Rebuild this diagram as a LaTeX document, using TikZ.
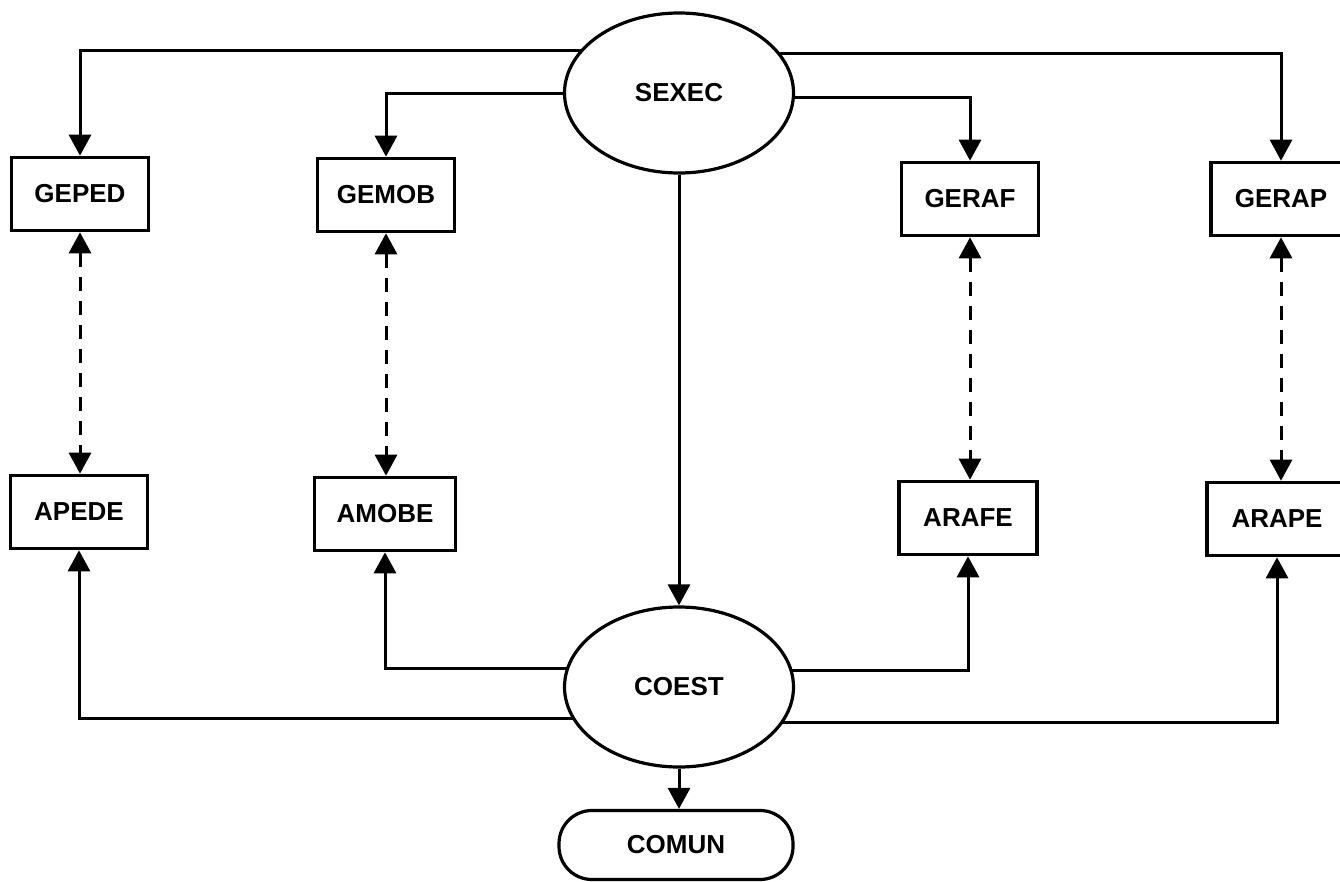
\documentclass[tikz,border=0pt]{standalone}
\usepackage{fontspec}
\setmainfont{Liberation Sans}
\usetikzlibrary{arrows.meta,calc,shapes.geometric,backgrounds}

\begin{document}
\begin{tikzpicture}[x=1pt,y=-1pt,
  every node/.style={font=\bfseries\fontsize{26}{30}\selectfont, inner sep=0pt},
  unit/.style={draw, line width=3.6pt, fill=white, minimum width=137pt, minimum height=73pt},
  hub/.style={draw, ellipse, line width=3.2pt, fill=white, minimum width=229pt, minimum height=160pt},
  terminal/.style={draw, line width=3.2pt, fill=white, rounded corners=33pt, minimum width=234pt, minimum height=69pt},
  link/.style={line width=3pt, -{Triangle[width=22pt,length=21pt]}},
  pair/.style={line width=3pt, dash pattern=on 14pt off 10pt,
    {Triangle[width=22pt,length=21pt]}-{Triangle[width=22pt,length=21pt]}}
]
\useasboundingbox (0,0) rectangle (1340,882);

% central units
\node[hub] (sexec) at (679,93) {SEXEC};
\node[hub] (coest) at (679,687) {COEST};
\node[terminal] (comun) at (676,845) {COMUN};

% managers (top row)
\node[unit] (geped) at (80,194)   {GEPED};
\node[unit] (gemob) at (386,195)  {GEMOB};
\node[unit] (geraf) at (970,199)  {GERAF};
\node[unit, minimum width=140pt] (gerap) at (1281,199) {GERAP};

% agencies (bottom row)
\node[unit] (apede) at (79,512)   {APEDE};
\node[unit, minimum width=141pt] (amobe) at (385,514) {AMOBE};
\node[unit, minimum width=138pt] (arafe) at (968,518) {ARAFE};
\node[unit, minimum width=140pt] (arape) at (1277,519) {ARAPE};

\begin{pgfonlayer}{background}
  \fill[white] (0,0) rectangle (1340,882);
  % SEXEC to the managers
  \draw[link] ($(sexec.center)+(0,-42)$) -| (geped.north);
  \draw[link] ($(sexec.center)+(0,1)$)   -| (gemob.north);
  \draw[link] ($(sexec.center)+(0,5)$)   -| (geraf.north);
  \draw[link] ($(sexec.center)+(0,-39)$) -| (gerap.north);
  % COEST to the agencies
  \draw[link] ($(coest.center)+(0,31)$)  -| (apede.south);
  \draw[link] ($(coest.center)+(0,-19)$) -| (amobe.south);
  \draw[link] ($(coest.center)+(0,-17)$) -| (arafe.south);
  \draw[link] ($(coest.center)+(0,35)$)  -| (arape.south);
\end{pgfonlayer}

\draw[link] (sexec.south) -- (coest.north);
\draw[link] (coest.south) -- (coest.south |- comun.north);

% manager / agency pairs
\draw[pair] (geped.south) -- (geped.south |- apede.north);
\draw[pair] (gemob.south) -- (gemob.south |- amobe.north);
\draw[pair] (geraf.south) -- (geraf.south |- arafe.north);
\draw[pair] (gerap.south) -- (gerap.south |- arape.north);
\end{tikzpicture}
\end{document}
